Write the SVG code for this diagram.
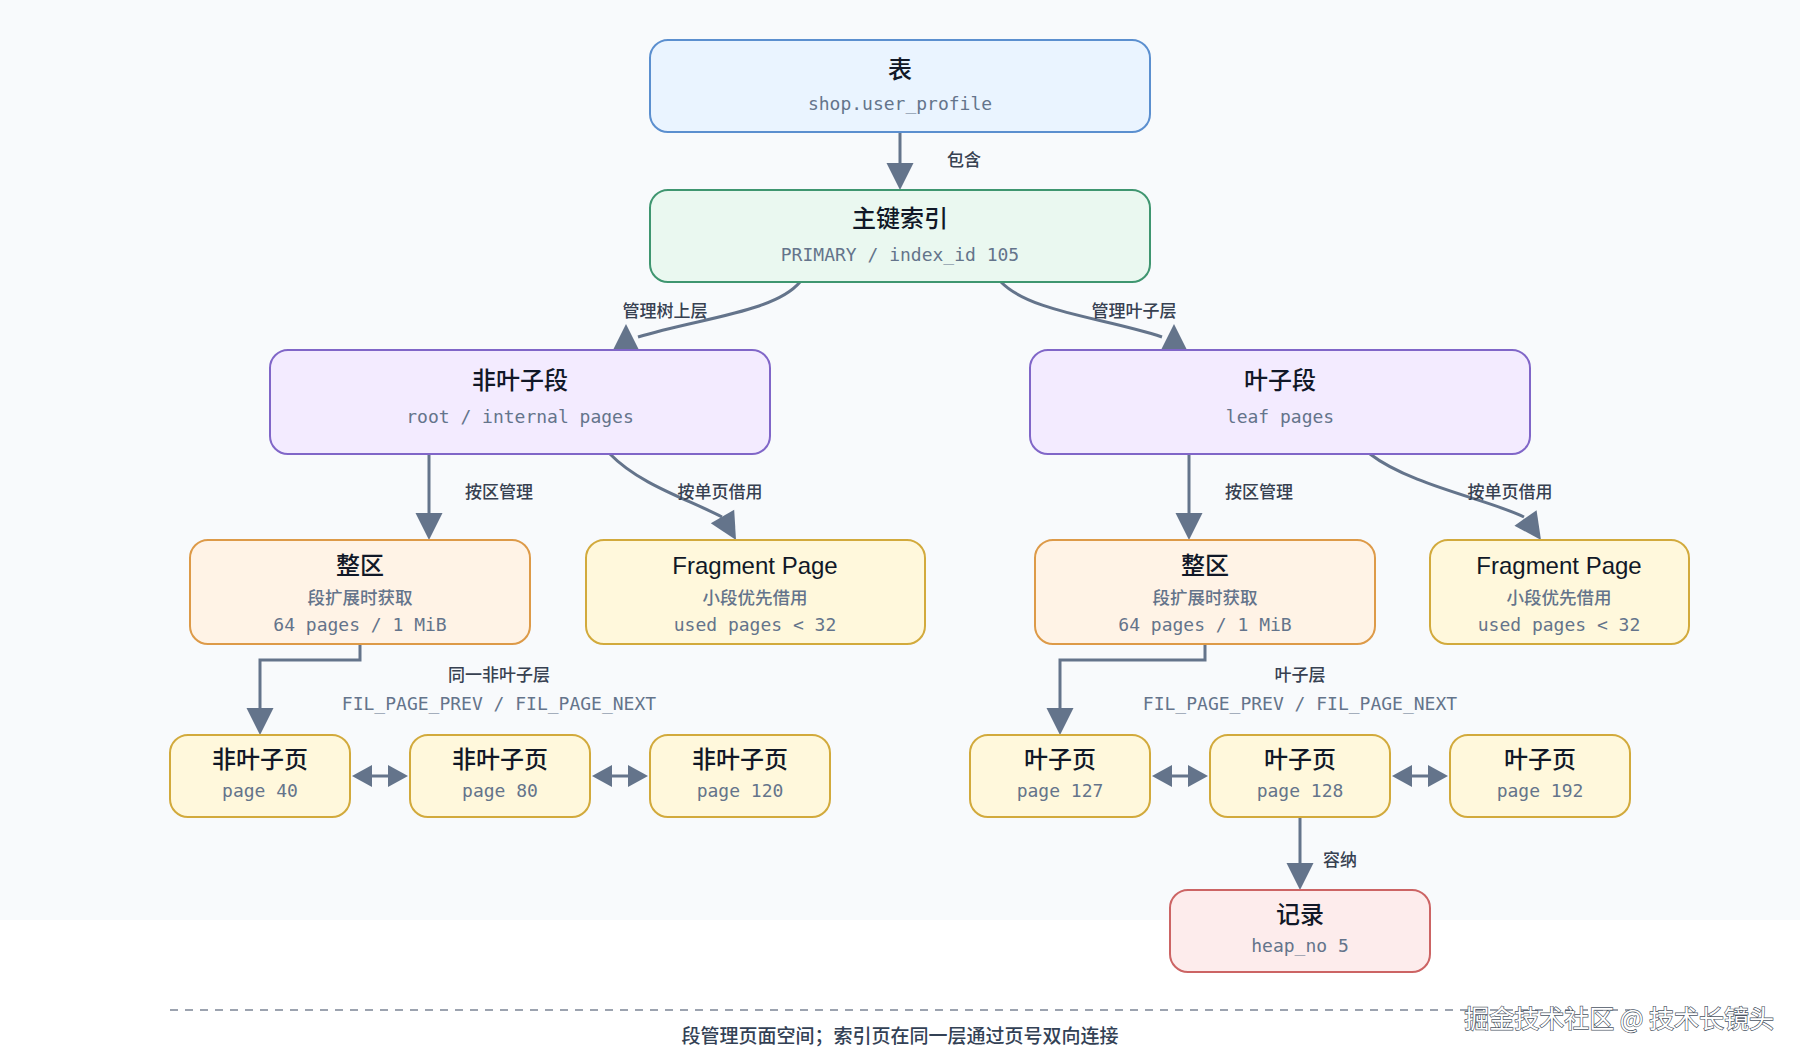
<svg xmlns="http://www.w3.org/2000/svg" xmlns:xlink="http://www.w3.org/1999/xlink" width="1800" height="1060" viewBox="0 0 1800 1060">
  <defs>
    <style>
      .box { stroke-width: 2; }
      .blue { fill: #eaf4ff; stroke: #5b8fcf; }
      .green { fill: #eaf8f0; stroke: #3f9670; }
      .purple { fill: #f3ebff; stroke: #8066c8; }
      .orange { fill: #fff3e6; stroke: #dd9a48; }
      .yellow { fill: #fff8dc; stroke: #d2aa3c; }
      .red { fill: #fdecec; stroke: #cc6464; }
      .title { font-family: "Liberation Sans", "Noto Sans CJK SC", sans-serif; font-size: 24px; fill: #111827; text-anchor: middle; font-weight: 500; }
      .sub { font-family: "DejaVu Sans Mono", "Noto Sans CJK SC", monospace; font-size: 18px; fill: #64748b; text-anchor: middle; }
      .subcjk { font-family: "Noto Sans CJK SC", sans-serif; font-size: 17.5px; fill: #64748b; text-anchor: middle; font-weight: 500; }
      .lbl { font-family: "Noto Sans CJK SC", sans-serif; font-size: 17px; fill: #374151; text-anchor: middle; font-weight: 500; }
      .lblmono { font-family: "DejaVu Sans Mono", monospace; font-size: 18px; fill: #64748b; text-anchor: middle; }
      .edge { fill: none; stroke: #64748b; stroke-width: 3; }
      .head { fill: #64748b; }
    </style>
    <path id="ah" d="M0,0 L-27,-13.5 L-27,13.5 Z"/>
    <path id="ahs" d="M0,0 L-20,-11 L-20,11 Z"/>
  </defs>

  <rect x="0" y="0" width="1800" height="920" fill="#f8fafc"/>
  <rect x="0" y="920" width="1800" height="140" fill="#ffffff"/>

  <g id="connectors">
    <!-- table -> primary -->
    <path class="edge" d="M900,132 L900,166"/>
    <use href="#ah" class="head" transform="translate(900,190) rotate(90)"/>
    <text class="lbl" x="964" y="166">包含</text>

    <!-- primary -> non-leaf segment -->
    <path class="edge" d="M800,282 C775,312 700,318 638,337"/>
    <use href="#ah" class="head" transform="translate(626,324) rotate(-90)"/>
    <text class="lbl" x="665" y="317">管理树上层</text>

    <!-- primary -> leaf segment -->
    <path class="edge" d="M1001,282 C1030,312 1105,318 1162,337"/>
    <use href="#ah" class="head" transform="translate(1174,324) rotate(-90)"/>
    <text class="lbl" x="1134" y="317">管理叶子层</text>

    <!-- non-leaf segment -> extent -->
    <path class="edge" d="M429,454 L429,516"/>
    <use href="#ah" class="head" transform="translate(429,540) rotate(90)"/>
    <text class="lbl" x="499" y="498">按区管理</text>

    <!-- non-leaf segment -> fragment -->
    <path class="edge" d="M610,454 C640,485 690,500 722,517"/>
    <use href="#ah" class="head" transform="translate(736,540) rotate(60)"/>
    <text class="lbl" x="720" y="498">按单页借用</text>

    <!-- leaf segment -> extent -->
    <path class="edge" d="M1189,454 L1189,516"/>
    <use href="#ah" class="head" transform="translate(1189,540) rotate(90)"/>
    <text class="lbl" x="1259" y="498">按区管理</text>

    <!-- leaf segment -> fragment -->
    <path class="edge" d="M1370,454 C1410,485 1490,500 1524,517"/>
    <use href="#ah" class="head" transform="translate(1541,540) rotate(55)"/>
    <text class="lbl" x="1510" y="498">按单页借用</text>

    <!-- extent (left) -> page 40 -->
    <path class="edge" d="M360,644 L360,660 L260,660 L260,711"/>
    <use href="#ah" class="head" transform="translate(260,735) rotate(90)"/>
    <text class="lbl" x="499" y="681">同一非叶子层</text>
    <text class="lblmono" x="499" y="710">FIL_PAGE_PREV / FIL_PAGE_NEXT</text>

    <!-- extent (right) -> page 127 -->
    <path class="edge" d="M1205,644 L1205,660 L1060,660 L1060,711"/>
    <use href="#ah" class="head" transform="translate(1060,735) rotate(90)"/>
    <text class="lbl" x="1300" y="681">叶子层</text>
    <text class="lblmono" x="1300" y="710">FIL_PAGE_PREV / FIL_PAGE_NEXT</text>

    <!-- page links (bidirectional) -->
    <path class="edge" d="M370,776 L390,776" stroke-width="4"/>
    <use href="#ahs" class="head" transform="translate(352,776) rotate(180)"/>
    <use href="#ahs" class="head" transform="translate(408,776)"/>
    <path class="edge" d="M610,776 L630,776" stroke-width="4"/>
    <use href="#ahs" class="head" transform="translate(592,776) rotate(180)"/>
    <use href="#ahs" class="head" transform="translate(648,776)"/>
    <path class="edge" d="M1170,776 L1190,776" stroke-width="4"/>
    <use href="#ahs" class="head" transform="translate(1152,776) rotate(180)"/>
    <use href="#ahs" class="head" transform="translate(1208,776)"/>
    <path class="edge" d="M1410,776 L1430,776" stroke-width="4"/>
    <use href="#ahs" class="head" transform="translate(1392,776) rotate(180)"/>
    <use href="#ahs" class="head" transform="translate(1448,776)"/>

    <!-- page 128 -> record -->
    <path class="edge" d="M1300,817 L1300,866"/>
    <use href="#ah" class="head" transform="translate(1300,890) rotate(90)"/>
    <text class="lbl" x="1340" y="866">容纳</text>
  </g>

  <g id="n-table">
    <rect class="box blue" x="650" y="40" width="500" height="92" rx="18"/>
    <text class="title" x="900" y="78">表</text>
    <text class="sub" x="900" y="110">shop.user_profile</text>
  </g>

  <g id="n-primary">
    <rect class="box green" x="650" y="190" width="500" height="92" rx="18"/>
    <text class="title" x="900" y="227">主键索引</text>
    <text class="sub" x="900" y="261">PRIMARY / index_id 105</text>
  </g>

  <g id="n-nonleaf-seg">
    <rect class="box purple" x="270" y="350" width="500" height="104" rx="18"/>
    <text class="title" x="520" y="389">非叶子段</text>
    <text class="sub" x="520" y="423">root / internal pages</text>
  </g>

  <g id="n-leaf-seg">
    <rect class="box purple" x="1030" y="350" width="500" height="104" rx="18"/>
    <text class="title" x="1280" y="389">叶子段</text>
    <text class="sub" x="1280" y="423">leaf pages</text>
  </g>

  <g id="n-extent-left">
    <rect class="box orange" x="190" y="540" width="340" height="104" rx="18"/>
    <text class="title" x="360" y="574">整区</text>
    <text class="subcjk" x="360" y="604">段扩展时获取</text>
    <text class="sub" x="360" y="631">64 pages / 1 MiB</text>
  </g>

  <g id="n-frag-left">
    <rect class="box yellow" x="586" y="540" width="339" height="104" rx="18"/>
    <text class="title" x="755" y="574">Fragment Page</text>
    <text class="subcjk" x="755" y="604">小段优先借用</text>
    <text class="sub" x="755" y="631">used pages &lt; 32</text>
  </g>

  <g id="n-extent-right">
    <rect class="box orange" x="1035" y="540" width="340" height="104" rx="18"/>
    <text class="title" x="1205" y="574">整区</text>
    <text class="subcjk" x="1205" y="604">段扩展时获取</text>
    <text class="sub" x="1205" y="631">64 pages / 1 MiB</text>
  </g>

  <g id="n-frag-right">
    <rect class="box yellow" x="1430" y="540" width="259" height="104" rx="18"/>
    <text class="title" x="1559" y="574">Fragment Page</text>
    <text class="subcjk" x="1559" y="604">小段优先借用</text>
    <text class="sub" x="1559" y="631">used pages &lt; 32</text>
  </g>

  <g id="n-page40">
    <rect class="box yellow" x="170" y="735" width="180" height="82" rx="18"/>
    <text class="title" x="260" y="768">非叶子页</text>
    <text class="sub" x="260" y="797">page 40</text>
  </g>
  <g id="n-page80">
    <rect class="box yellow" x="410" y="735" width="180" height="82" rx="18"/>
    <text class="title" x="500" y="768">非叶子页</text>
    <text class="sub" x="500" y="797">page 80</text>
  </g>
  <g id="n-page120">
    <rect class="box yellow" x="650" y="735" width="180" height="82" rx="18"/>
    <text class="title" x="740" y="768">非叶子页</text>
    <text class="sub" x="740" y="797">page 120</text>
  </g>

  <g id="n-page127">
    <rect class="box yellow" x="970" y="735" width="180" height="82" rx="18"/>
    <text class="title" x="1060" y="768">叶子页</text>
    <text class="sub" x="1060" y="797">page 127</text>
  </g>
  <g id="n-page128">
    <rect class="box yellow" x="1210" y="735" width="180" height="82" rx="18"/>
    <text class="title" x="1300" y="768">叶子页</text>
    <text class="sub" x="1300" y="797">page 128</text>
  </g>
  <g id="n-page192">
    <rect class="box yellow" x="1450" y="735" width="180" height="82" rx="18"/>
    <text class="title" x="1540" y="768">叶子页</text>
    <text class="sub" x="1540" y="797">page 192</text>
  </g>

  <g id="n-record">
    <rect class="box red" x="1170" y="890" width="260" height="82" rx="18"/>
    <text class="title" x="1300" y="923">记录</text>
    <text class="sub" x="1300" y="952">heap_no 5</text>
  </g>

  <g id="footer">
    <line x1="170" y1="1010" x2="1630" y2="1010" stroke="#9ca3af" stroke-width="2" stroke-dasharray="8 7"/>
    <text x="900" y="1043" font-family="Noto Sans CJK SC, sans-serif" font-size="19" font-weight="500" fill="#334155" text-anchor="middle">段管理页面空间；索引页在同一层通过页号双向连接</text>
    <text x="1774" y="1028" font-family="Noto Sans CJK SC, sans-serif" font-size="25" fill="#ffffff" stroke="#4b5563" stroke-width="1.3" paint-order="stroke" text-anchor="end">掘金技术社区 @ 技术长镜头</text>
  </g>
</svg>
